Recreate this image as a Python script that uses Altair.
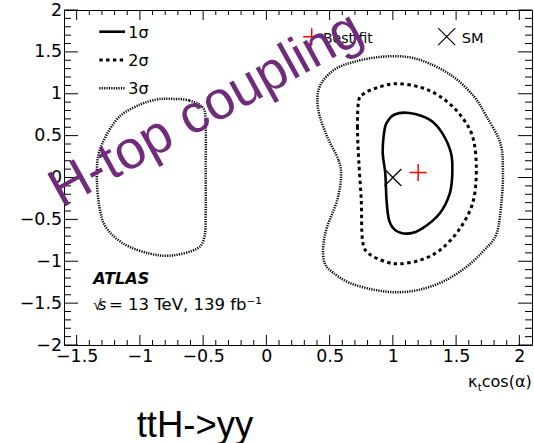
import altair as alt
import numpy as np
import pandas as pd

# Likelihood contours in the (kappa_t cos(alpha), kappa_t sin(alpha)) plane
sigma1_x = [0.93, 0.92, 0.94, 0.95, 0.97, 1.02, 1.12, 1.23, 1.37, 1.45, 1.47, 1.46, 1.39, 1.29, 1.13, 1.01, 0.95]
sigma1_y = [0.53, 0.29, 0.05, -0.27, -0.51, -0.63, -0.67, -0.61, -0.43, -0.19, 0.05, 0.29, 0.53, 0.69, 0.77, 0.75, 0.65]

sigma2_x = [0.73, 0.72, 0.73, 0.75, 0.76, 0.81, 0.95, 1.05, 1.21, 1.37, 1.52, 1.63, 1.66, 1.63, 1.52, 1.37, 1.21, 1.02, 0.87, 0.77]
sigma2_y = [0.92, 0.61, 0.21, -0.27, -0.75, -0.91, -1.01, -1.03, -0.99, -0.87, -0.63, -0.31, 0.09, 0.49, 0.77, 0.97, 1.08, 1.12, 1.07, 1.00]

sigma3_right_x = [0.59, 0.57, 0.48, 0.41, 0.42, 0.53, 0.69, 0.90, 1.11, 1.29, 1.48, 1.64, 1.74, 1.85, 1.87,
                  1.86, 1.82, 1.72, 1.58, 1.40, 1.21, 1.03, 0.85, 0.66, 0.53, 0.46, 0.45, 0.48, 0.56]
sigma3_right_y = [0.01, 0.21, 0.49, 0.81, 1.08, 1.28, 1.38, 1.44, 1.44, 1.36, 1.20, 0.97, 0.73, 0.41, 0.09,
                  -0.27, -0.67, -0.87, -1.07, -1.24, -1.34, -1.37, -1.34, -1.26, -1.14, -1.02, -0.82, -0.59, -0.27]

sigma3_left_x = [-0.77, -0.61, -0.50, -0.48, -0.48, -0.48, -0.49, -0.55, -0.74, -0.92, -1.13, -1.27, -1.32,
                 -1.34, -1.33, -1.27, -1.16, -1.00, -0.87]
sigma3_left_y = [0.94, 0.92, 0.83, 0.65, 0.17, -0.43, -0.71, -0.85, -0.93, -0.91, -0.79, -0.59, -0.35,
                 -0.03, 0.25, 0.49, 0.73, 0.87, 0.93]

best_fit_x, best_fit_y = [1.2], [0.06]
sm_x, sm_y = [1.0], [0.0]

x_tick_labels = [-1.5, -1, -0.5, 0, 0.5, 1, 1.5, 2]
y_tick_labels = [-2, -1.5, -1, -0.5, 0, 0.5, 1, 1.5, 2]
legend_labels = ["1σ", "2σ", "3σ"]

W, H = 468, 335
SANS = "DejaVu Sans"
HELV = "Liberation Sans"
PURPLE = "#702b7b"

rows = []
for name, level, xs_, ys_ in [
    ("s1", 1, sigma1_x, sigma1_y),
    ("s2", 2, sigma2_x, sigma2_y),
    ("s3r", 3, sigma3_right_x, sigma3_right_y),
    ("s3l", 3, sigma3_left_x, sigma3_left_y),
]:
    for i, (a, b) in enumerate(zip(xs_, ys_)):
        rows.append({"contour": name, "level": level, "order": i, "x": a, "y": b})
contours = pd.DataFrame(rows)

xscale = alt.Scale(domain=[-1.6, 2.1], nice=False, zero=False)
yscale = alt.Scale(domain=[-2, 2], nice=False, zero=False)

label_style = dict(ticks=False, domain=False, grid=False, title=None, labelFont=SANS,
                   labelFontSize=17.4, labelColor="black", labelOverlap=False, labelFlush=False,
                   format="~g", tickSize=0)
x_axis = alt.Axis(values=x_tick_labels, labelPadding=2, **label_style)
y_axis = alt.Axis(values=y_tick_labels, labelPadding=2.5, **label_style)


def X(field):
    return alt.X(field, scale=xscale, axis=x_axis)


def Y(field):
    return alt.Y(field, scale=yscale, axis=y_axis)


def contour_layer(level, dash, width):
    mark_kw = dict(interpolate="cardinal-closed", color="black", strokeWidth=width)
    if dash:
        mark_kw["strokeDash"] = dash
    return alt.Chart(contours[contours.level == level]).mark_line(**mark_kw).encode(
        x=X("x:Q"), y=Y("y:Q"), detail="contour:N", order="order:Q"
    )


layers = [
    contour_layer(1, None, 2.6),
    contour_layer(2, [3.4, 3.4], 3.0),
    contour_layer(3, [1.2, 1.2], 2.5),
]

# Inward-pointing frame ticks (major every 0.5, minor every 0.1)
x_ticks = np.round(np.arange(-15, 21) / 10, 1)
y_ticks = np.round(np.arange(-20, 21) / 10, 1)


def is_major(v):
    return abs(v * 2 - round(v * 2)) < 1e-9


def tick_frames(vals):
    major = pd.DataFrame({"v": [v for v in vals if is_major(v)]})
    minor = pd.DataFrame({"v": [v for v in vals if not is_major(v)]})
    return major, minor


xmaj, xmin = tick_frames(x_ticks)
ymaj, ymin = tick_frames(y_ticks)
for df, L in [(xmaj, 10), (xmin, 5)]:
    layers.append(alt.Chart(df).mark_rule(color="black", strokeWidth=1).encode(
        x=X("v:Q"), y=alt.value(H), y2=alt.value(H - L)))
    layers.append(alt.Chart(df).mark_rule(color="black", strokeWidth=1).encode(
        x=X("v:Q"), y=alt.value(0), y2=alt.value(L)))
for df, L in [(ymaj, 14), (ymin, 7)]:
    layers.append(alt.Chart(df).mark_rule(color="black", strokeWidth=1).encode(
        y=Y("v:Q"), x=alt.value(0), x2=alt.value(L)))
    layers.append(alt.Chart(df).mark_rule(color="black", strokeWidth=1).encode(
        y=Y("v:Q"), x=alt.value(W), x2=alt.value(W - L)))

# Best fit and Standard Model points
PLUS = "M-1,0L1,0M0,-1L0,1"
CROSS = "M-1,-1L1,1M-1,1L1,-1"
layers.append(alt.Chart(pd.DataFrame({"x": best_fit_x, "y": best_fit_y})).mark_point(
    shape=PLUS, size=289, filled=False, color="red", strokeWidth=1.5, opacity=1).encode(
    x=X("x:Q"), y=Y("y:Q")))
layers.append(alt.Chart(pd.DataFrame({"x": sm_x, "y": sm_y})).mark_point(
    shape=CROSS, size=289, filled=False, color="black", strokeWidth=1.2, opacity=1).encode(
    x=X("x:Q"), y=Y("y:Q")))

one = pd.DataFrame({"k": [0]})


def text(t, x, y, size, font=SANS, align="left", color="black", **kw):
    return alt.Chart(one).mark_text(text=t, align=align, baseline="alphabetic", fontSize=size,
                                    font=font, color=color, **kw).encode(
        x=alt.value(x), y=alt.value(y))


# Line-style legend
legend_y = [21.7, 50, 78.3]
legend_style = [(None, 2.6), ([3.4, 3.4], 3.0), ([1.2, 1.2], 2.5)]
for lab, ly, (dash, w) in zip(legend_labels, legend_y, legend_style):
    kw = dict(color="black", strokeWidth=w)
    if dash:
        kw["strokeDash"] = dash
    layers.append(alt.Chart(one).mark_rule(**kw).encode(
        x=alt.value(35.3), x2=alt.value(61), y=alt.value(ly)))
    layers.append(text(lab, 64.3, ly + 5.8, 16))

# Marker legend
layers.append(alt.Chart(one).mark_point(shape=PLUS, size=289, filled=False, color="red",
                                        strokeWidth=1.5, opacity=1).encode(
    x=alt.value(247.7), y=alt.value(26.7)))
layers.append(text("Best fit", 259, 32.5, 14))
layers.append(alt.Chart(one).mark_point(shape=CROSS, size=289, filled=False, color="black",
                                        strokeWidth=1.2, opacity=1).encode(
    x=alt.value(382.7), y=alt.value(26.7)))
layers.append(text("SM", 397.7, 32.5, 14.5))

# ATLAS label
layers.append(text("ATLAS", 29.3, 274, 16, fontStyle="italic", fontWeight="bold"))
layers.append(text("√", 29.3, 300, 15, font=HELV))
layers.append(text("s", 34.5, 300, 15, fontStyle="italic"))
layers.append(text("= 13 TeV, 139 fb⁻¹", 45, 300, 16.5))

# x-axis title: kappa_t cos(alpha)
layers.append(text("κ", 413.5, 377, 16, align="right"))
layers.append(text("t", 413.8, 381, 10.5))
layers.append(text("cos(α)", 467.7, 377, 16, align="right"))

# Annotations
layers.append(text("ttH->yy", 72.7, 426.7, 36.5, font=HELV))
layers.append(alt.Chart(one).mark_text(text="H-top coupling", align="center", baseline="middle",
                                       fontSize=54, font=HELV, color=PURPLE, angle=331).encode(
    x=alt.value(142), y=alt.value(100)))

chart = alt.layer(*layers).properties(
    width=W, height=H, autosize="none",
    padding={"left": 64, "top": 10, "right": 2, "bottom": 98},
).configure(background="white").configure_view(stroke="black", strokeWidth=1)

chart.save("out.html", embed_options={"renderer": "svg", "actions": False})
